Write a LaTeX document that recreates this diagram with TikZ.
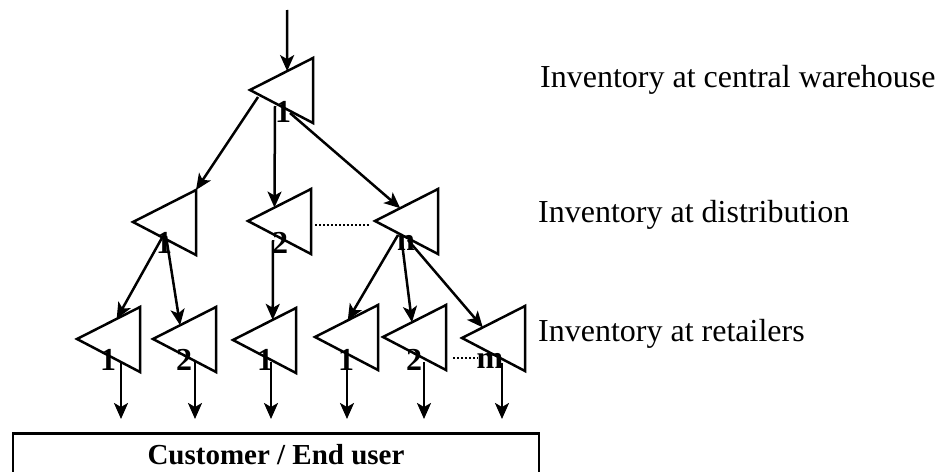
\documentclass[tikz,border=0pt]{standalone}
\usepackage{fontspec}
\setmainfont{Liberation Serif}
\usetikzlibrary{calc,arrows.meta}
\tikzset{
  tri/.pic={\draw[line width=2.5pt, line join=miter] (0,0) coordinate (-tip) -- (63,-32) coordinate (-tr) -- (63,33) coordinate (-br) -- cycle;},
  arr/.style={line width=2.5pt, -{Stealth[length=16pt,width=14pt,inset=4pt]}},
  dots/.style={line width=2.5pt, dash pattern=on 2pt off 2pt},
  num/.style={font=\fontsize{32}{32}\selectfont\bfseries, inner sep=0pt, anchor=base},
  lab/.style={font=\fontsize{32}{32}\selectfont, inner sep=0pt, anchor=base west}
}
\begin{document}
\begin{tikzpicture}[x=1pt,y=-1pt]
\useasboundingbox (0,0) rectangle (941,471);
% triangles
\pic (w) at (250,90) {tri};
\pic (m1) at (133,222) {tri};
\pic (m2) at (248,221) {tri};
\pic (mn) at (375,221) {tri};
\pic (r1) at (77,339) {tri};
\pic (r2) at (153,339) {tri};
\pic (r3) at (233,340) {tri};
\pic (r4) at (315,337) {tri};
\pic (r5) at (383,337) {tri};
\pic (r6) at (462,338) {tri};
% labels
\node[num] (lw) at (283,122) {1};
\node[num] (lm1) at (164,253) {1};
\node[num] (lm2) at (280,253) {2};
\node[num] (lmn) at (406,250) {n};
\node[num] (lr1) at (108,370) {1};
\node[num] (lr2) at (184,370) {2};
\node[num] (lr3) at (265,370) {1};
\node[num] (lr4) at (346,370) {1};
\node[num] (lr5) at (414,370) {2};
\node[num] (lr6) at (490,368) {m};
% connector coordinates
\coordinate (in) at (287,10);
\coordinate (wo1) at (258,97);
\coordinate (wo2) at (275,106);
\coordinate (wo3) at (290,113);
\coordinate (m1o1) at (163,236);
\coordinate (m1o2) at (166,236);
\coordinate (m2o) at (273,240);
\coordinate (mno1) at (398,235);
\coordinate (mno2) at (401,235);
\coordinate (mno3) at (408,240);
% connectors
\draw[arr] (in) -- ($(w-tip)!0.59!(w-tr)$);
\draw[arr] (wo1) -- (m1-tr);
\draw[arr] (wo2) -- ($(m2-tip)!0.42!(m2-tr)$);
\draw[arr] (wo3) -- ($(mn-tip)!0.4!(mn-tr)$);
\draw[arr] (m1o1) -- ($(r1-tip)!0.63!(r1-tr)$);
\draw[arr] (m1o2) -- ($(r2-tip)!0.43!(r2-tr)$);
\draw[arr] (m2o) -- ($(r3-tip)!0.63!(r3-tr)$);
\draw[arr] (mno1) -- ($(r4-tip)!0.52!(r4-tr)$);
\draw[arr] (mno2) -- ($(r5-tip)!0.46!(r5-tr)$);
\draw[arr] (mno3) -- ($(r6-tip)!0.33!(r6-tr)$);
% dotted
\coordinate (d1a) at (315,225);
\coordinate (d1b) at (370,225);
\draw[dots] (d1a) -- (d1b);
\coordinate (d2a) at (453,358);
\coordinate (d2b) at (478,358);
\draw[dots] (d2a) -- (d2b);
% down arrows
\foreach \i/\x/\y in {1/121/362,2/195/362,3/271/362,4/347/362,5/424/362,6/502/363}{
  \coordinate (s\i) at (\x,\y);
  \coordinate (e\i) at (\x,419);
  \draw[arr] (s\i) -- (e\i);
}
% customer box
\node[draw, line width=2.5pt, anchor=north, inner xsep=0pt, inner ysep=0pt,
      minimum width=526pt, text height=31pt, text depth=29pt,
      font=\fontsize{29}{29}\selectfont\bfseries] (cust) at (276,432) {Customer / End user};
% right texts
\node[lab] (t1) at (540,87) {Inventory at central warehouse};
\node[lab] (t2) at (538,222) {Inventory at distribution};
\node[lab] (t3) at (538,341) {Inventory at retailers};
\end{tikzpicture}
\end{document}
